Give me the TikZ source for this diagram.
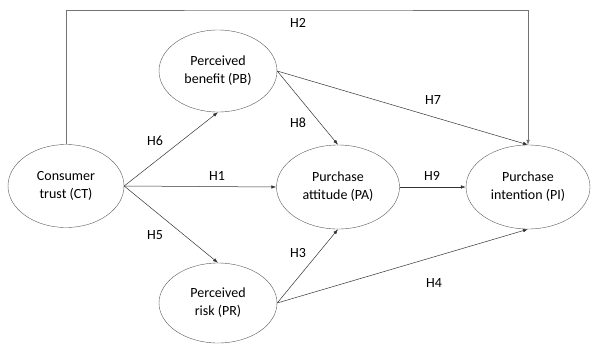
\documentclass[tikz,border=0pt]{standalone}
\usepackage{fontspec}
\setmainfont{Carlito}
\usetikzlibrary{shapes.geometric,arrows.meta}

\tikzset{
	construct/.style={ellipse, draw=black!65, minimum width=118pt, minimum height=82pt, inner sep=0pt, align=center, font=\fontsize{14}{18}\selectfont},
	link/.style={->, draw=black!80, line width=0.5pt},
	hlabel/.style={inner sep=1pt, font=\fontsize{14}{17}\selectfont}
}

\begin{document}
\begin{tikzpicture}[x=1pt,y=-1pt,>={Latex[length=5pt,width=3.5pt]}]
	\useasboundingbox (0,0) rectangle (592,343);
	\node[construct, minimum width=116pt, minimum height=83pt] (ct) at (66,186) {Consumer\\trust (CT)};
	\node[construct] (pb) at (218,71) {Perceived\\benefit (PB)};
	\node[construct, minimum height=80pt] (pr) at (218,303) {Perceived\\risk (PR)};
	\node[construct, minimum width=123pt, minimum height=84pt] (pa) at (338,187) {Purchase\\attitude (PA)};
	\node[construct, minimum width=124pt, minimum height=84pt] (pi) at (528,187) {Purchase\\intention (PI)};
	
	\coordinate (top) at (300,10);
	\draw[link, draw=black!55] (ct.north) |- (top) -| (pi.north);
	\node[hlabel] (h2) at (298,23) {H2};
	
	\draw[link] (ct.east) -- (pb.south);
	\node[hlabel] (h6) at (155,141) {H6};
	\draw[link] (ct.east) -- (pa.west);
	\node[hlabel] (h1) at (217,176) {H1};
	\draw[link] (ct.east) -- (pr.north);
	\node[hlabel] (h5) at (155,235) {H5};
	
	\draw[link] (pb.east) -- (pa.north);
	\node[hlabel] (h8) at (298,123) {H8};
	\draw[link] (pb.east) -- (pi.north);
	\node[hlabel] (h7) at (433,100) {H7};
	
	\draw[link] (pr.east) -- (pa.south);
	\node[hlabel] (h3) at (298,253) {H3};
	\draw[link] (pr.east) -- (pi.south);
	\node[hlabel] (h4) at (434,283) {H4};
	
	\draw[link] (pa.east) -- (pi.west);
	\node[hlabel] (h9) at (432,176) {H9};
\end{tikzpicture}
\end{document}
